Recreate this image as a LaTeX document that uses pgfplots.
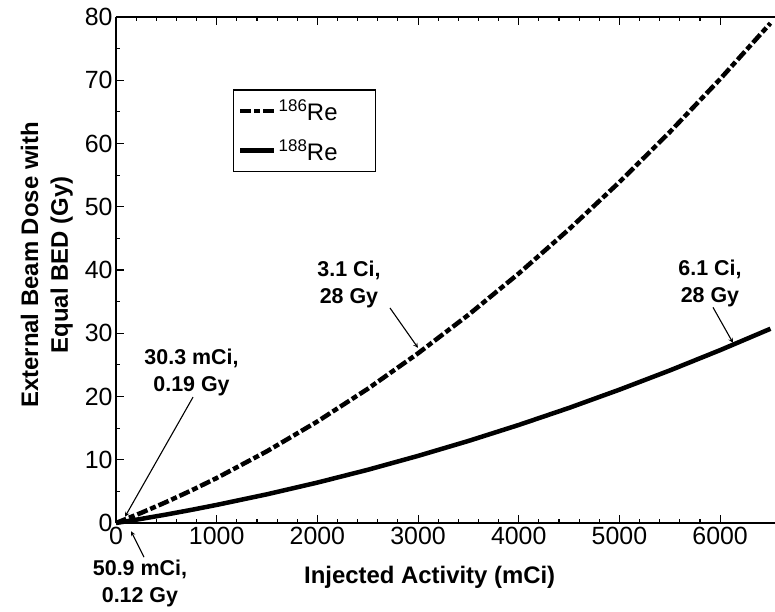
\documentclass[border=0pt]{standalone}
\usepackage{fontspec}
\setmainfont{Liberation Sans}
\usepackage{pgfplots}
\pgfplotsset{compat=1.18}

% Equivalent external beam dose for the two rhenium isotopes
\pgfplotstableread{
x     y
0     0
250   1.60
500   3.32
750   5.16
1000  7.11
1500  11.35
2000  16.05
2500  21.21
3000  26.83
3500  32.91
4000  39.45
4500  46.45
5000  53.90
5500  61.81
6000  70.19
6500  79.02
}\reOneEightSix

\pgfplotstableread{
x     y
0     0
250   0.65
500   1.34
750   2.08
1000  2.86
1500  4.54
2000  6.39
2500  8.41
3000  10.61
3500  12.97
4000  15.50
4500  18.20
5000  21.08
5500  24.12
6000  27.33
6500  30.71
}\reOneEightEight

% isotope label with a right-hand pad so the legend box keeps its width
\newcommand{\iso}[1]{\raisebox{9bp}{\fontsize{17}{17}\selectfont #1}Re\rule{31bp}{0pt}}

\begin{document}
\begin{tikzpicture}
\begin{axis}[
  at={(0,0)}, anchor=south west, scale only axis,
  width=659bp, height=506bp,
  xmin=0, xmax=6545, ymin=0, ymax=80,
  axis x line=box, axis y line=left,
  axis line style={-, line width=1.6bp},
  xtick={0,1000,...,6000}, ytick={0,10,...,80},
  minor x tick num=4, minor y tick num=1,
  tick align=inside, major tick length=8bp, minor tick length=4bp,
  tick style={line width=1.1bp, black},
  /pgf/number format/assume math mode=true,
  /pgf/number format/1000 sep={},
  ticklabel style={font=\fontsize{25}{28}\selectfont},
  xticklabel style={yshift=-1bp},
  xlabel={\bfseries Injected Activity (mCi)},
  xlabel style={at={(axis description cs:0.476,-0.108)}, anchor=center,
    font=\fontsize{24}{28}\selectfont},
  ylabel={\bfseries External Beam Dose with\\\bfseries Equal BED (Gy)},
  ylabel style={at={(axis description cs:-0.105,0.51)}, anchor=center,
    align=center, font=\fontsize{24}{30}\selectfont},
  legend style={at={(axis description cs:0.177,0.857)}, anchor=north west,
    draw=black, line width=1.2bp, font=\fontsize{24}{26}\selectfont,
    inner xsep=5bp, inner ysep=8bp, row sep=13bp},
  legend cell align=left,
  legend image code/.code={\draw[#1] (0bp,0bp) -- (34bp,0bp);},
  clip=false,
]
\addplot[black, line width=4.5bp, dash pattern=on 11bp off 3bp on 6bp off 3bp]
  table[x=x, y=y] {\reOneEightSix};
\addlegendentry{\iso{186}}
\addplot[black, line width=4.5bp]
  table[x=x, y=y] {\reOneEightEight};
\addlegendentry{\iso{188}}

% annotations
\tikzset{ann/.style={font=\bfseries\fontsize{21.5}{27}\selectfont, align=center},
  arr/.style={-stealth, line width=1.1bp}}
\node[ann] at (axis cs:750,23.8) {30.3 mCi,\\0.19 Gy};
\draw[arr] (axis cs:765,19.9) -- (axis cs:90,1.0);
\node[ann] at (axis cs:238,-9.6) {50.9 mCi,\\0.12 Gy};
\draw[arr] (axis cs:278,-5.4) -- (axis cs:149,-1.3);
\node[ann] at (axis cs:2314,37.7) {3.1 Ci,\\28 Gy};
\draw[arr] (axis cs:2721,34.0) -- (axis cs:2999,27.7);
\node[ann] at (axis cs:5899,37.9) {6.1 Ci,\\28 Gy};
\draw[arr] (axis cs:5929,34.1) -- (axis cs:6127,28.5);
\end{axis}
\pgfresetboundingbox
\path[use as bounding box] (-116bp,-89bp) rectangle (659bp,523bp);
\end{tikzpicture}
\end{document}
